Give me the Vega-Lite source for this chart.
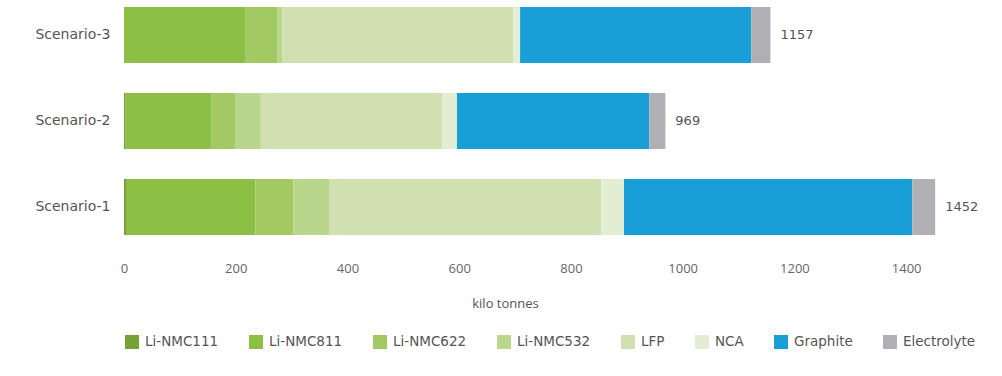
{
  "$schema": "https://vega.github.io/schema/vega-lite/v6.json",
  "autosize": {"type": "none"},
  "width": 838,
  "height": 228,
  "padding": {"left": 124, "top": 7, "right": 40, "bottom": 141},
  "background": "white",
  "config": {
    "view": {"stroke": null},
    "font": "DejaVu Sans",
    "text": {"font": "DejaVu Sans"}
  },
  "datasets": {
    "parts": [
      {"scenario": "Scenario-1", "material": "Li-NMC111", "k": 1, "value": 5},
      {"scenario": "Scenario-1", "material": "Li-NMC811", "k": 2, "value": 230},
      {"scenario": "Scenario-1", "material": "Li-NMC622", "k": 3, "value": 68},
      {"scenario": "Scenario-1", "material": "Li-NMC532", "k": 4, "value": 64},
      {"scenario": "Scenario-1", "material": "LFP", "k": 5, "value": 487},
      {"scenario": "Scenario-1", "material": "NCA", "k": 6, "value": 41},
      {"scenario": "Scenario-1", "material": "Graphite", "k": 7, "value": 516},
      {"scenario": "Scenario-1", "material": "Electrolyte", "k": 8, "value": 41},
      {"scenario": "Scenario-2", "material": "Li-NMC111", "k": 1, "value": 3},
      {"scenario": "Scenario-2", "material": "Li-NMC811", "k": 2, "value": 154},
      {"scenario": "Scenario-2", "material": "Li-NMC622", "k": 3, "value": 43},
      {"scenario": "Scenario-2", "material": "Li-NMC532", "k": 4, "value": 45},
      {"scenario": "Scenario-2", "material": "LFP", "k": 5, "value": 324},
      {"scenario": "Scenario-2", "material": "NCA", "k": 6, "value": 27},
      {"scenario": "Scenario-2", "material": "Graphite", "k": 7, "value": 344},
      {"scenario": "Scenario-2", "material": "Electrolyte", "k": 8, "value": 29},
      {"scenario": "Scenario-3", "material": "Li-NMC111", "k": 1, "value": 0},
      {"scenario": "Scenario-3", "material": "Li-NMC811", "k": 2, "value": 218},
      {"scenario": "Scenario-3", "material": "Li-NMC622", "k": 3, "value": 57},
      {"scenario": "Scenario-3", "material": "Li-NMC532", "k": 4, "value": 9},
      {"scenario": "Scenario-3", "material": "LFP", "k": 5, "value": 413},
      {"scenario": "Scenario-3", "material": "NCA", "k": 6, "value": 12},
      {"scenario": "Scenario-3", "material": "Graphite", "k": 7, "value": 414},
      {"scenario": "Scenario-3", "material": "Electrolyte", "k": 8, "value": 34}
    ],
    "totals": [
      {"scenario": "Scenario-1", "total": 1452},
      {"scenario": "Scenario-2", "total": 969},
      {"scenario": "Scenario-3", "total": 1157}
    ]
  },
  "layer": [
    {
      "data": {"name": "parts"},
      "mark": {"type": "bar"},
      "encoding": {
        "y": {
          "field": "scenario",
          "type": "nominal",
          "sort": ["Scenario-3", "Scenario-2", "Scenario-1"],
          "scale": {"paddingInner": 0.349, "paddingOuter": 0},
          "axis": {
            "title": null,
            "domain": false,
            "ticks": false,
            "labelPadding": 14,
            "labelFontSize": 14,
            "labelColor": "#555555",
            "labelFont": "DejaVu Sans"
          }
        },
        "x": {
          "field": "value",
          "type": "quantitative",
          "stack": "zero",
          "scale": {"domain": [0, 1500], "nice": false},
          "axis": {
            "values": [0, 200, 400, 600, 800, 1000, 1200, 1400],
            "format": "d",
            "labelFlush": false,
            "grid": false,
            "domain": false,
            "ticks": false,
            "labelPadding": 27,
            "labelFontSize": 13,
            "labelColor": "#666666",
            "labelFont": "Open Sans",
            "title": "kilo tonnes",
            "titleFont": "Open Sans",
            "titleFontWeight": "normal",
            "titleFontSize": 13,
            "titleColor": "#555555",
            "titleX": 381,
            "titleY": 68,
            "titleBaseline": "middle",
            "titleAnchor": "start",
            "titleAlign": "center"
          }
        },
        "order": {"field": "k", "type": "quantitative", "sort": "ascending"},
        "color": {
          "field": "material",
          "type": "nominal",
          "scale": {
            "domain": ["Li-NMC111", "Li-NMC811", "Li-NMC622", "Li-NMC532", "LFP", "NCA", "Graphite", "Electrolyte"],
            "range": ["#76a135", "#8cbf43", "#a2c962", "#bad68c", "#d0e0b1", "#e2edd4", "#199ed8", "#b0b0b4"]
          },
          "legend": {
            "title": null,
            "orient": "none",
            "direction": "horizontal",
            "legendX": 1,
            "legendY": 328,
            "symbolType": "square",
            "symbolSize": 196,
            "symbolStrokeWidth": 0,
            "labelFontSize": 13.5,
            "labelColor": "#555555",
            "labelFont": "DejaVu Sans",
            "labelOffset": 6,
            "columnPadding": 30
          }
        }
      }
    },
    {
      "data": {"name": "totals"},
      "mark": {"type": "text", "align": "left", "baseline": "middle", "dx": 10, "fontSize": 13, "color": "#555555", "font": "DejaVu Sans"},
      "encoding": {
        "y": {"field": "scenario", "type": "nominal", "sort": ["Scenario-3", "Scenario-2", "Scenario-1"]},
        "x": {"field": "total", "type": "quantitative"},
        "text": {"field": "total", "type": "quantitative"}
      }
    }
  ]
}
